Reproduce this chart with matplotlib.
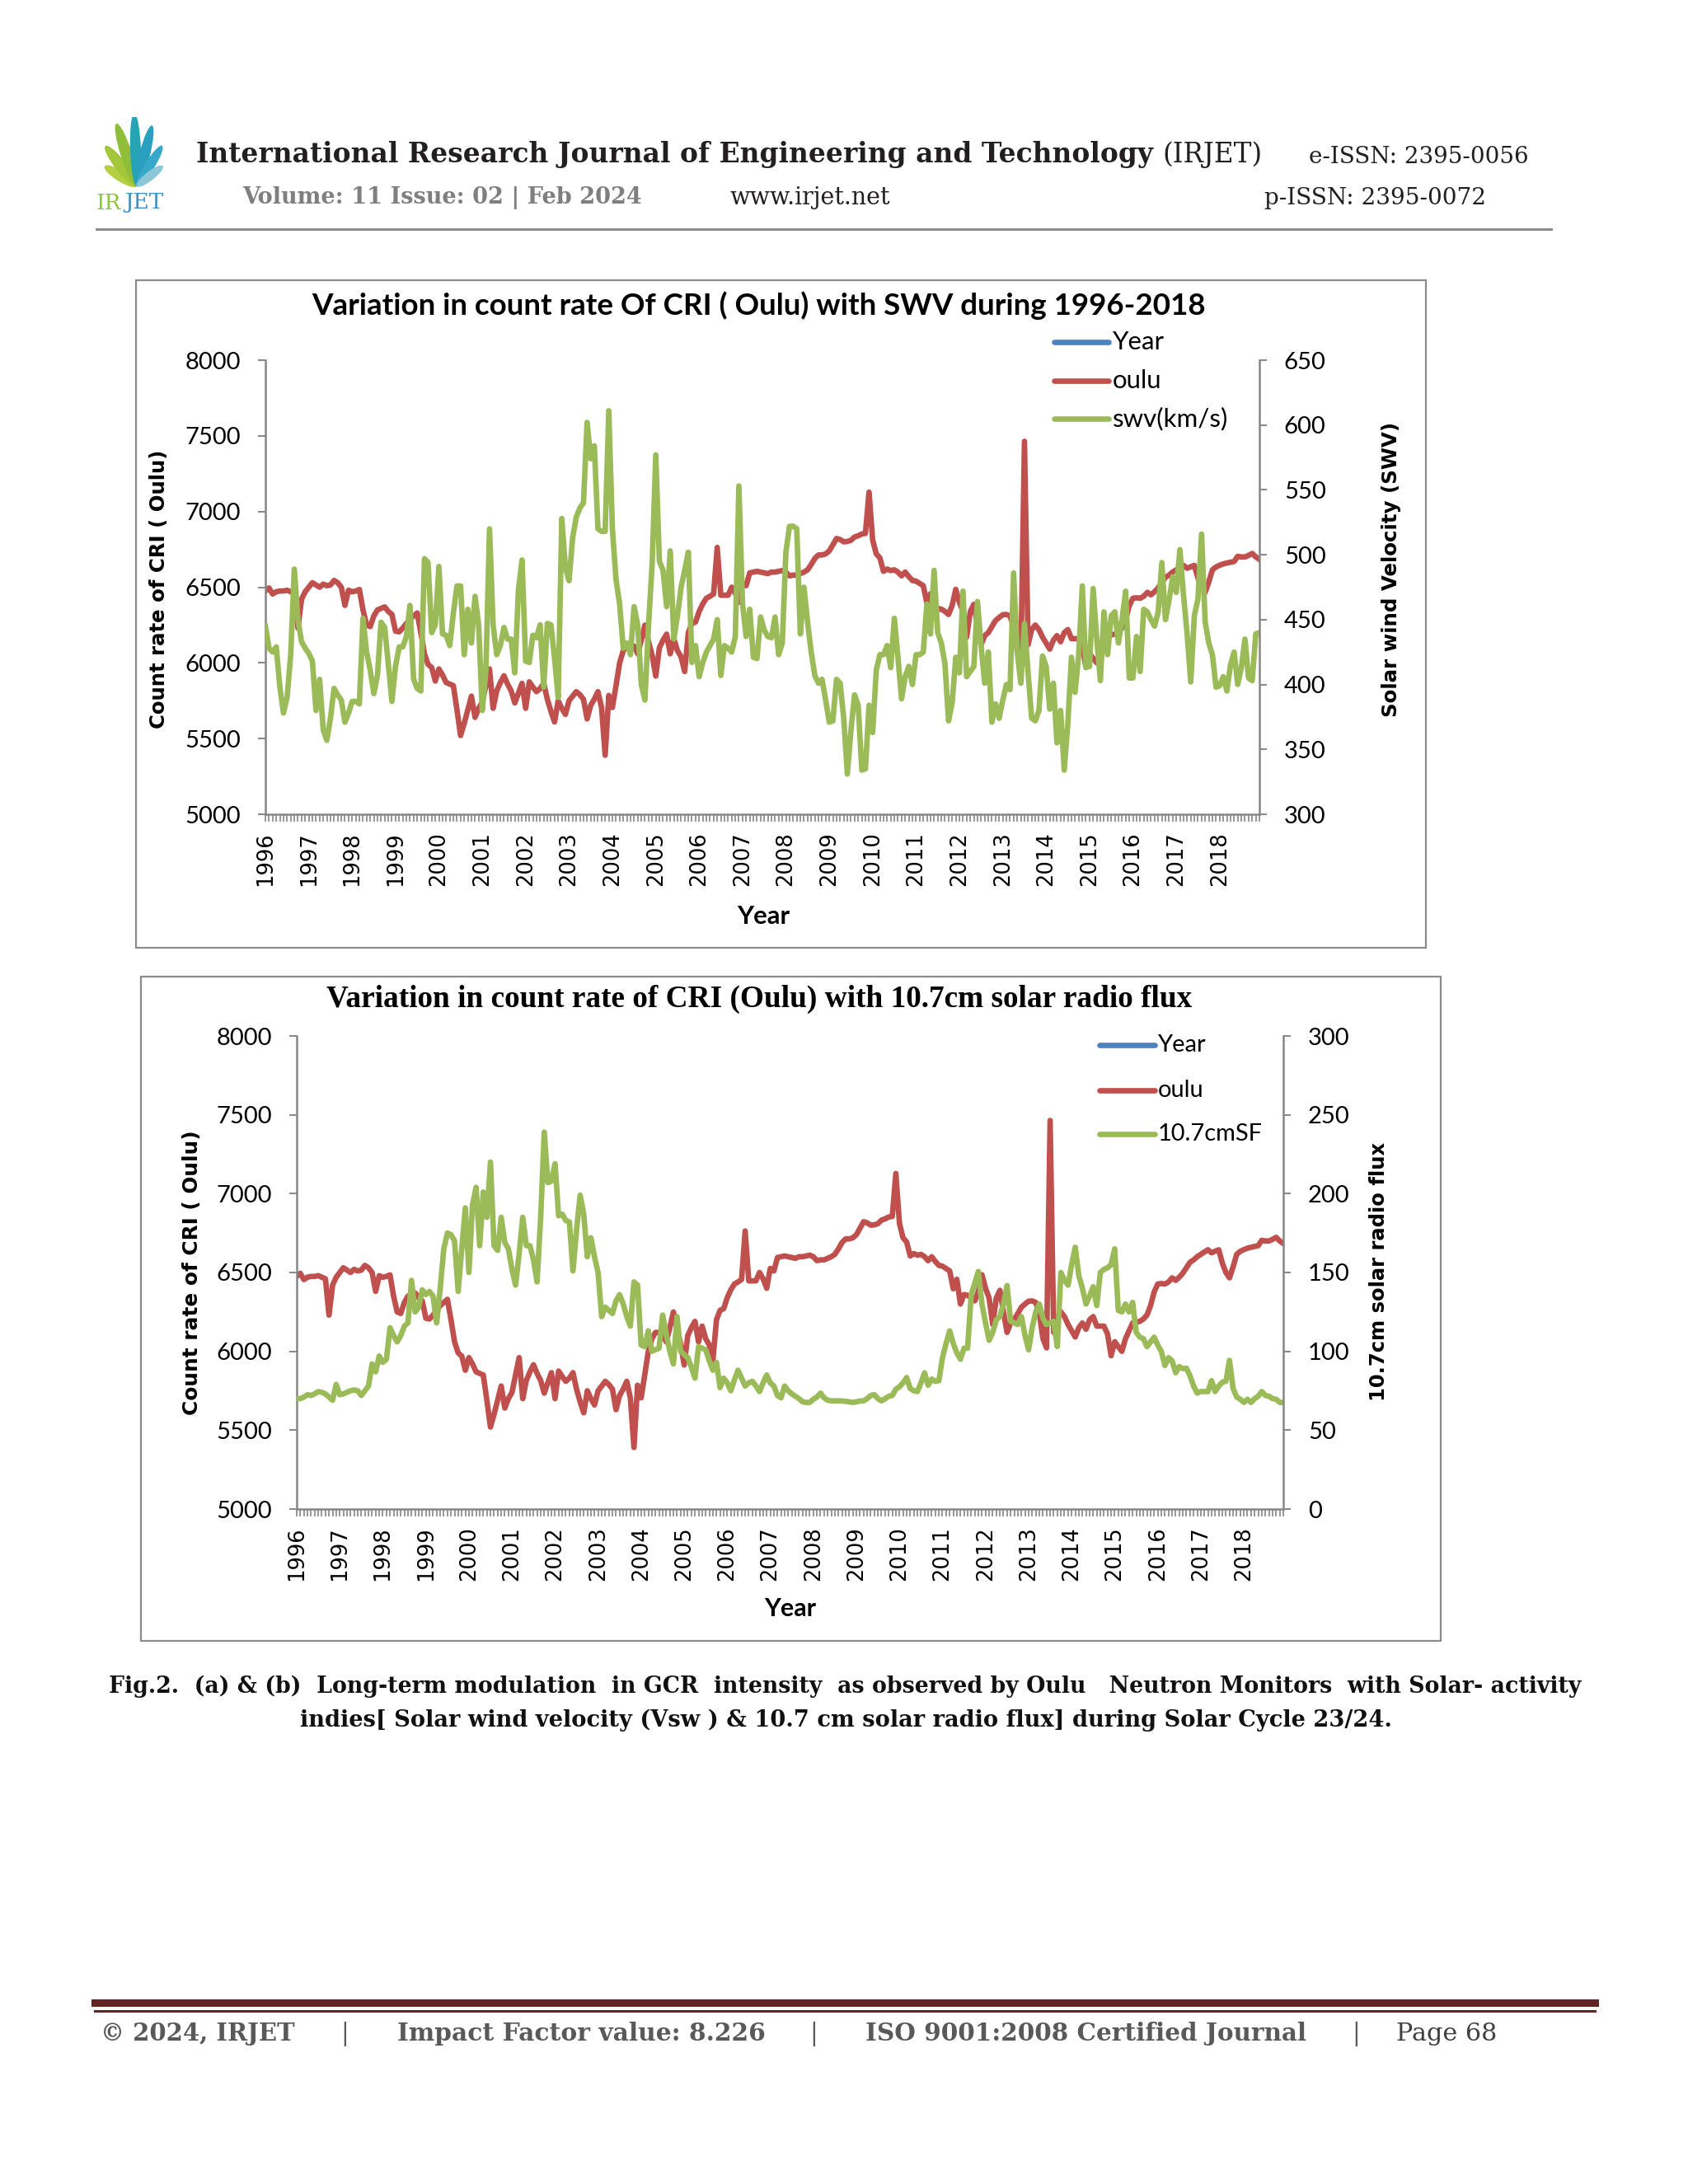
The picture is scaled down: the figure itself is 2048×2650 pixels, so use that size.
import math
import matplotlib
matplotlib.use('Agg')
import matplotlib.pyplot as plt
from matplotlib.lines import Line2D
from matplotlib.patches import Rectangle, Ellipse

W, H = 2048, 2650

years = [str(y) for y in range(1996, 2019)]

# monthly Oulu NM count rate, Jan 1996 .. Dec 2018 (same series in both panels)
oulu = [
    6476, 6495, 6455, 6470, 6475, 6475, 6480, 6470, 6460, 6230, 6420, 6470,
    6500, 6530, 6515, 6500, 6520, 6510, 6515, 6545, 6530, 6500, 6380, 6480,
    6470, 6475, 6485, 6350, 6250, 6240, 6310, 6350, 6360, 6370, 6340, 6320,
    6210, 6205, 6230, 6260, 6290, 6310, 6330, 6200, 6060, 5990, 5970, 5880,
    5960, 5920, 5870, 5860, 5850, 5690, 5520, 5600, 5690, 5780, 5640, 5700,
    5740, 5850, 5960, 5700, 5815, 5870, 5915, 5860, 5815, 5735, 5800, 5865,
    5700, 5875, 5840, 5810, 5830, 5865, 5760, 5680, 5610, 5750, 5700, 5660,
    5750, 5780, 5810, 5790, 5760, 5630, 5720, 5760, 5810, 5705, 5390, 5785,
    5705, 5850, 6000, 6080, 6120, 6120, 6110, 6060, 6150, 6250, 6140, 6050,
    5913, 6100, 6150, 6190, 6060, 6160, 6080, 6040, 5943, 6200, 6260, 6270,
    6340, 6390, 6427, 6440, 6456, 6763, 6447, 6447, 6447, 6500, 6460, 6400,
    6526, 6510, 6595, 6600, 6605, 6600, 6595, 6590, 6600, 6600, 6605, 6610,
    6600, 6575, 6580, 6580, 6590, 6600, 6615, 6650, 6690, 6713, 6713, 6720,
    6740, 6780, 6822, 6815, 6800, 6802, 6810, 6832, 6840, 6852, 6855, 7128,
    6812, 6720, 6694, 6605, 6620, 6610, 6615, 6600, 6575, 6600, 6570, 6545,
    6540, 6525, 6510, 6397, 6457, 6300, 6360, 6355, 6340, 6320, 6380, 6486,
    6400, 6338, 6170, 6338, 6387, 6250, 6120, 6180, 6200, 6240, 6280, 6300,
    6318, 6320, 6310, 6240, 6081, 6022, 7464, 6120, 6220, 6250, 6220, 6170,
    6130, 6091, 6150, 6180, 6140, 6200, 6220, 6160, 6160, 6160, 6110, 5972,
    6061, 6030, 6000, 6080, 6130, 6180, 6185, 6190, 6205, 6230, 6290, 6377,
    6427, 6430, 6427, 6440, 6466, 6450, 6470, 6496, 6530, 6565, 6580, 6600,
    6615, 6630, 6644, 6625, 6635, 6644, 6560, 6500, 6466, 6535, 6615, 6634,
    6645, 6654, 6660, 6665, 6670, 6704, 6700, 6700, 6710, 6723, 6700, 6684,
]

# solar wind velocity (km/s)
swv = [
    445, 428, 425, 429, 398, 378, 390, 423, 489, 450, 433, 428,
    424, 418, 380, 404, 365, 357, 374, 397, 392, 388, 371, 378,
    387, 387, 385, 451, 425, 411, 393, 407, 448, 444, 416, 387,
    414, 429, 429, 437, 461, 404, 397, 395, 497, 494, 440, 446,
    491, 439, 438, 430, 455, 476, 476, 423, 458, 432, 468, 446,
    380, 411, 520, 446, 423, 430, 444, 435, 435, 409, 473, 496,
    418, 417, 438, 436, 446, 398, 447, 446, 420, 390, 528, 490,
    480, 513, 529, 536, 540, 602, 574, 584, 520, 518, 518, 611,
    520, 481, 462, 428, 432, 423, 460, 446, 400, 388, 446, 493,
    577, 495, 488, 460, 503, 435, 453, 475, 488, 502, 417, 430,
    406, 417, 425, 430, 435, 450, 407, 430, 428, 425, 437, 553,
    462, 437, 458, 421, 420, 452, 442, 437, 436, 452, 423, 432,
    502, 522, 522, 520, 439, 475, 448, 425, 407, 401, 404, 388,
    371, 372, 404, 401, 374, 331, 365, 392, 384, 334, 335, 384,
    363, 411, 423, 423, 430, 413, 451, 421, 389, 406, 414, 400,
    423, 423, 425, 462, 439, 488, 440, 432, 416, 372, 386, 421,
    409, 472, 406, 410, 414, 464, 430, 401, 425, 371, 385, 374,
    388, 400, 396, 486, 425, 401, 447, 409, 374, 372, 380, 422,
    414, 381, 401, 355, 380, 334, 370, 421, 394, 423, 476, 413,
    414, 474, 435, 403, 456, 423, 453, 456, 432, 450, 472, 405,
    405, 437, 410, 458, 456, 450, 445, 456, 494, 450, 465, 483,
    471, 504, 469, 439, 402, 453, 466, 516, 448, 432, 423, 398,
    399, 406, 395, 415, 425, 400, 413, 435, 405, 403, 439, 440,
]

# 10.7 cm solar radio flux
flux = [
    70, 70, 71, 72.5, 72, 73, 74.5, 74, 73, 71, 69, 79,
    72.5, 73, 74, 75, 75.5, 75, 72, 75, 78, 92, 87, 97,
    93, 95, 115, 110, 106, 110, 116, 118, 145, 125, 128, 139,
    136, 138, 135, 118, 140, 165, 175, 174, 170, 138, 165, 191,
    150, 193, 204, 167, 201, 185, 220, 167, 164, 185, 169, 165,
    152, 142, 162, 185, 167, 167, 158, 144, 185, 239, 207, 208,
    219, 186, 187, 183, 182, 151, 177, 199, 187, 160, 172, 160,
    150, 122, 128, 126, 124, 132, 136, 130, 122, 116, 144, 142,
    104, 103, 113, 100, 101, 102, 123, 111, 100, 92, 122, 100,
    98, 96, 90, 83, 103, 102, 101, 94, 88, 93, 77, 83,
    80, 75, 82, 88, 83, 78, 80, 81, 78, 74.5, 80, 85,
    80, 78, 72, 70.5, 78, 75, 73, 71.5, 70, 68, 67.6, 67.6,
    69.6, 71, 73.5, 70.5, 69, 68.6, 68.6, 68.6, 68.5, 68.3, 68, 67.6,
    68, 68.5, 68.6, 70, 72, 72.5, 70, 68.6, 70, 71.5, 72, 76,
    77.5, 80, 83.4, 76.5, 75, 74.5, 80, 86.4, 78.5, 82.4, 81, 81.4,
    96, 105, 113, 105, 99, 95, 102, 102, 136, 143, 150.6, 130,
    118, 107, 112, 120, 122, 130, 141.7, 119, 118, 117, 122, 110,
    101, 115, 125, 130, 121, 117, 118, 119, 103, 150, 145, 142,
    155, 166, 148, 140, 130, 135, 141, 129, 150, 152, 153, 155,
    165, 126, 125, 130, 125, 131, 112, 109, 108, 103, 106, 109,
    104, 100, 91, 96, 94, 86.4, 90.3, 89, 89.3, 84.4, 78, 73.5,
    74.5, 74.5, 74.5, 81.4, 74.5, 78, 80.4, 81, 94.3, 76.5, 71, 69.6,
    67.6, 69.6, 67.6, 70, 71.5, 74.5, 72, 71.5, 70, 69.6, 67.6, 67.6,
]

months = list(range(len(oulu)))

blue, red, green = '#4F81BD', '#C0504D', '#9BBB59'
gray = '#868686'
sans = ['Lato', 'DejaVu Sans']
serif = ['DejaVu Serif']
lw = 4.8

plt.rcParams['font.family'] = sans

fig = plt.figure(figsize=(W / 100, H / 100), dpi=100)
fig.patch.set_facecolor('white')
rend = fig.canvas.get_renderer()


def put(s, x0, x1, y, **kw):
    # text running from page pixel x0 to x1, vertically centred on y
    t = fig.text(x0 / W, 1 - y / H, s, ha='left', va='center', fontsize=20, **kw)
    w = t.get_window_extent(rend).width
    t.set_fontsize(20 * (x1 - x0) / w)
    return t


def vput(s, x, y0, y1, **kw):
    t = fig.text(x / W, 1 - (y0 + y1) / 2 / H, s, ha='center', va='center',
                 rotation=90, fontsize=20, **kw)
    h = t.get_window_extent(rend).height
    t.set_fontsize(20 * (y1 - y0) / h)
    return t


def hline(x0, x1, y, c, w):
    fig.add_artist(Line2D([x0 / W, x1 / W], [1 - y / H, 1 - y / H],
                          transform=fig.transFigure, color=c, lw=w * 0.72))


def frame(x0, x1, y0, y1):
    fig.add_artist(Rectangle((x0 / W, 1 - y1 / H), (x1 - x0) / W, (y1 - y0) / H,
                             transform=fig.transFigure, fill=False, ec='#8c8c8c', lw=1.6))


def legend(x0, x1, tx, tx1, ys, labels, colors):
    widest = max(labels, key=len)
    ref = put(widest, tx, tx1, ys[labels.index(widest)])
    size = ref.get_fontsize()
    ref.remove()
    for y, lab, c in zip(ys, labels, colors):
        fig.add_artist(Line2D([x0 / W, x1 / W], [1 - y / H, 1 - y / H],
                              transform=fig.transFigure, color=c, lw=lw,
                              solid_capstyle='round'))
        fig.text(tx / W, 1 - y / H, lab, ha='left', va='center', fontsize=size)


def draw_chart(l, r, t, b, right_vals, rlim):
    ax = fig.add_axes([l / W, 1 - b / H, (r - l) / W, (b - t) / H])
    ax.plot(months, oulu, color=red, lw=lw, solid_joinstyle='round')
    ax.set_xlim(0, len(months) - 1)
    ax.set_ylim(5000, 8000)
    ax.set_yticks(range(5000, 8001, 500))
    ax.set_xticks(months)
    ax.set_xticklabels([years[i // 12] if i % 12 == 0 else '' for i in months],
                       rotation=90, fontfamily='DejaVu Sans', fontsize=18.5)
    ax2 = ax.twinx()
    ax2.plot(months, right_vals, color=green, lw=lw, solid_joinstyle='round')
    ax2.set_ylim(*rlim)
    ax2.set_yticks(range(rlim[0], rlim[1] + 1, 50))
    for a in (ax, ax2):
        for sp in a.spines.values():
            sp.set_visible(False)
            sp.set_color(gray)
            sp.set_linewidth(1.8)
        a.tick_params(axis='y', direction='out', length=6.5, width=1.4, color=gray,
                      labelsize=21, pad=15)
    ax.spines['left'].set_visible(True)
    ax.spines['bottom'].set_visible(True)
    ax2.spines['right'].set_visible(True)
    ax.tick_params(axis='x', direction='out', length=6.5, width=1.2, color=gray, pad=9)
    return ax, ax2


# ---------------- header ----------------
lg = fig.add_axes([108 / W, 1 - 262 / H, 112 / W, 120 / H])
lg.set_xlim(0, 112)
lg.set_ylim(0, 120)
lg.axis('off')
for ang, ln, wd, col in [(58, 46, 13, '#b5cf45'), (38, 62, 14, '#a4c639'),
                         (18, 80, 14, '#8fbf3a'), (2, 88, 13, '#27a4b4'),
                         (-14, 76, 13, '#2b9fc0'), (-32, 58, 12, '#37a9c8'),
                         (-52, 40, 11, '#8cc7d8')]:
    a = math.radians(ang)
    cx = 58 - math.sin(a) * ln / 2
    cy = 36 + math.cos(a) * ln / 2
    lg.add_patch(Ellipse((cx, cy), wd, ln, angle=ang, color=col, lw=0))
lg.text(8, 16, 'IR', color='#8dc63f', fontsize=19, fontfamily=serif, va='center')
lg.text(43, 16, 'JET', color='#3a8fc8', fontsize=19, fontfamily=serif, va='center')

put('International Research Journal of Engineering and Technology', 238, 1398, 188,
    fontfamily=serif, fontweight='bold', color='#231f20')
put('(IRJET)', 1410, 1531, 188, fontfamily=serif, color='#231f20')
put('e-ISSN: 2395-0056', 1588, 1855, 190, fontfamily=serif, color='#231f20')
put('Volume: 11 Issue: 02 | Feb 2024', 294, 779, 240, fontfamily=serif,
    fontweight='bold', color='#7f7f7f')
put('www.irjet.net', 885, 1080, 240, fontfamily=serif, color='#231f20')
put('p-ISSN: 2395-0072', 1534, 1803, 240, fontfamily=serif, color='#231f20')
hline(117, 1882, 278, '#8c8c8c', 3)

# ---------------- chart (a) ----------------
frame(165, 1730, 340, 1150)
draw_chart(322, 1528, 437, 988, swv, (300, 650))
put('Variation in count rate Of CRI ( Oulu) with SWV during 1996-2018', 378, 1465, 371,
    fontweight='bold')
legend(1279, 1345, 1350, 1490, [415, 462, 508], ['Year', 'oulu', 'swv(km/s)'],
       [blue, red, green])
put('Year', 894, 958, 1112, fontweight='bold')
vput('Count rate of CRI ( Oulu)', 193, 545, 884, fontfamily='DejaVu Sans', fontweight='bold')
vput('Solar wind Velocity (SWV)', 1688, 511, 871, fontfamily='DejaVu Sans', fontweight='bold')

# ---------------- chart (b) ----------------
frame(171, 1748, 1185, 1991)
draw_chart(360, 1557, 1257, 1831, flux, (0, 300))
put('Variation in count rate of CRI (Oulu) with 10.7cm solar radio flux', 396, 1444, 1212,
    fontfamily='Liberation Serif', fontweight='bold')
legend(1334, 1401, 1405, 1532, [1268, 1323, 1376], ['Year', 'oulu', '10.7cmSF'],
       [blue, red, green])
put('Year', 927, 990, 1952, fontweight='bold')
vput('Count rate of CRI ( Oulu)', 233, 1372, 1716, fontfamily='DejaVu Sans', fontweight='bold')
vput('10.7cm solar radio flux', 1673, 1385, 1700, fontfamily='DejaVu Sans', fontweight='bold')

# ---------------- caption ----------------
put('Fig.2.  (a) & (b)  Long-term modulation  in GCR  intensity  as observed by Oulu   '
    'Neutron Monitors  with Solar- activity', 132, 1918, 2046,
    fontfamily=serif, fontweight='bold', color='#111111')
put('indies[ Solar wind velocity (Vsw ) & 10.7 cm solar radio flux] during Solar Cycle 23/24.',
    364, 1688, 2087, fontfamily=serif, fontweight='bold', color='#111111')

# ---------------- footer ----------------
hline(115, 1935, 2430, '#622423', 9)
hline(115, 1935, 2440, '#622423', 3)
foot = put('© 2024, IRJET', 122, 357, 2468, fontfamily=serif, fontweight='bold', color='#595959')
fs = foot.get_fontsize()
put('Impact Factor value: 8.226', 482, 928, 2468, fontfamily=serif, fontweight='bold',
    color='#595959')
put('ISO 9001:2008 Certified Journal', 1050, 1585, 2468, fontfamily=serif, fontweight='bold',
    color='#595959')
put('Page 68', 1694, 1816, 2468, fontfamily=serif, color='#404040')
for x in (418, 987, 1645):
    fig.text(x / W, 1 - 2468 / H, '|', ha='center', va='center', fontsize=fs,
             fontfamily=serif, color='#595959')

fig.savefig('out.png', dpi=100, facecolor='white')
